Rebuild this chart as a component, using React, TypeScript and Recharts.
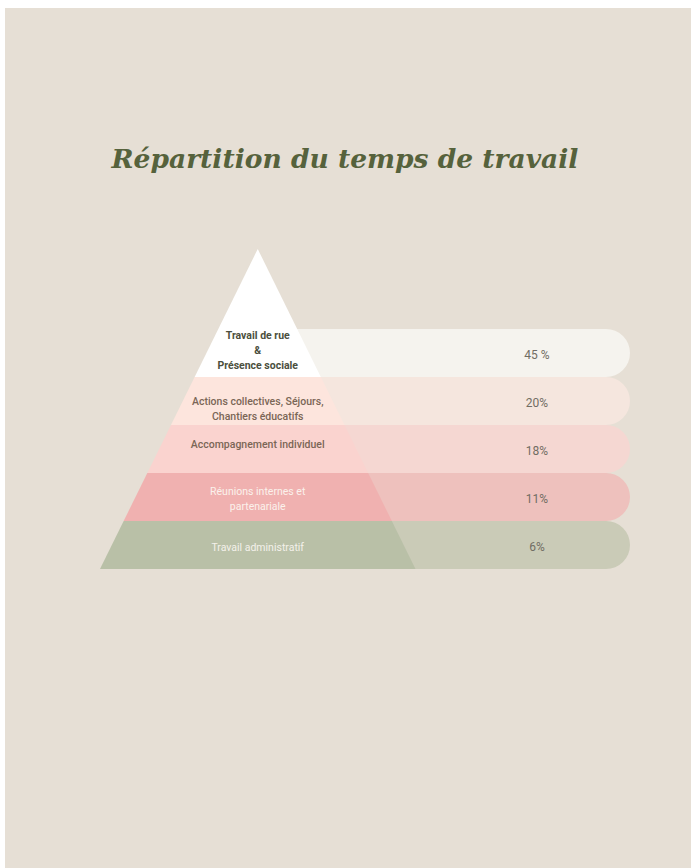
import React from 'react';
import { ComposedChart, Bar, XAxis, YAxis, LabelList } from 'recharts';

// rows from top of the pyramid to its base
const categories = [
  'Travail de rue & Présence sociale',
  'Actions collectives, Séjours, Chantiers éducatifs',
  'Accompagnement individuel',
  'Réunions internes et partenariale',
  'Travail administratif',
];
const labelLines = [
  ['Travail de rue', '&', 'Présence sociale'],
  ['Actions collectives, Séjours,', 'Chantiers éducatifs'],
  ['Accompagnement individuel'],
  ['Réunions internes et', 'partenariale'],
  ['Travail administratif'],
];
const shares = ['45 %', '20%', '18%', '11%', '6%'];
// half width of the pyramid at the bottom edge of each row (base = 100)
const halfWidths = [40, 55, 70, 85, 100];
const barEnd = 236;

const pyramidFill = ['#ffffff', '#fde5dd', '#fad3cf', '#f0b1b0', '#b9c0a7'];
const barFill = ['#f5f3ee', '#f5e6de', '#f5d7d2', '#eec1bd', '#cacbb7'];
const textFill = ['#4b4f3d', '#7a6656', '#7a6656', '#fbf1ec', '#f4f1ea'];
const textWeight = [700, 500, 500, 400, 400];
const labelShift = [-3, 7, -5, 1, 2];

const data = categories.map((name, i) => ({
  name,
  span: [-halfWidths[i], halfWidths[i]],
  top: i === 0 ? 0 : halfWidths[i - 1],
  bottom: halfWidths[i],
  bar: [0, barEnd],
  share: shares[i],
}));

const step = halfWidths[1] - halfWidths[0];

const Trapezoid = (props: any) => {
  const { x, y, width, height, payload, index } = props;
  const cx = x + width / 2;
  const topHalf = (width / 2) * (payload.top / payload.bottom);
  const rise = (height * (payload.bottom - payload.top)) / step;
  const yb = y + height;
  const yt = yb - rise;
  const pts = `${x},${yb} ${x + width},${yb} ${cx + topHalf},${yt} ${cx - topHalf},${yt}`;
  return <polygon points={pts} fill={pyramidFill[index]} />;
};

const RoundBar = (props: any) => {
  const { x, y, width, height, index } = props;
  const r = height / 2;
  const d = `M${x},${y} H${x + width - r} A${r},${r} 0 0 1 ${x + width - r},${y + height} H${x} Z`;
  return <path d={d} fill={barFill[index]} />;
};

const RowLabel = (props: any) => {
  const { x, y, width, height, index } = props;
  const lines = labelLines[index];
  const lh = 15;
  const cy = y + height / 2 + labelShift[index] - ((lines.length - 1) * lh) / 2;
  return (
    <text
      x={x + width / 2}
      y={cy}
      textAnchor="middle"
      dominantBaseline="central"
      fill={textFill[index]}
      fontWeight={textWeight[index]}
      fontSize={10.5}
      fontFamily="Roboto, sans-serif"
    >
      {lines.map((l, k) => (
        <tspan key={k} x={x + width / 2} dy={k === 0 ? 0 : lh}>
          {l}
        </tspan>
      ))}
    </text>
  );
};

const ShareLabel = (props: any) => {
  const { x, y, width, height, index } = props;
  return (
    <text
      x={x + width * 0.75}
      y={y + height / 2 + 2}
      textAnchor="middle"
      dominantBaseline="central"
      fill="#716d63"
      fontSize={12}
      fontFamily="Roboto, sans-serif"
    >
      {shares[index]}
    </text>
  );
};

export default function App() {
  return (
    <div
      style={{
        position: 'absolute',
        left: 5,
        top: 8,
        width: 686,
        height: 860,
        background: '#e6dfd5',
        overflow: 'hidden',
      }}
    >
      <div
        style={{
          position: 'absolute',
          top: 135,
          left: 0,
          width: 680,
          textAlign: 'center',
          fontFamily: '"DejaVu Serif", serif',
          fontStyle: 'italic',
          fontWeight: 700,
          fontSize: 26.5,
          color: '#56623c',
        }}
      >
        Répartition du temps de travail
      </div>
      <ComposedChart
        width={686}
        height={860}
        data={data}
        layout="vertical"
        barCategoryGap={0}
        barGap={0}
        margin={{ top: 321, right: 61, bottom: 299, left: 95 }}
        style={{ position: 'absolute', left: 0, top: 0 }}
      >
        <XAxis xAxisId="bars" type="number" domain={[-100, barEnd]} hide />
        <XAxis xAxisId="pyr" type="number" domain={[-100, barEnd]} hide />
        <YAxis yAxisId="bars" type="category" dataKey="name" hide />
        <YAxis yAxisId="pyr" type="category" dataKey="name" hide />
        <Bar
          xAxisId="bars"
          yAxisId="bars"
          dataKey="bar"
          shape={<RoundBar />}
          isAnimationActive={false}
        >
          <LabelList dataKey="share" content={<ShareLabel />} />
        </Bar>
        <Bar
          xAxisId="pyr"
          yAxisId="pyr"
          dataKey="span"
          shape={<Trapezoid />}
          isAnimationActive={false}
        >
          <LabelList dataKey="name" content={<RowLabel />} />
        </Bar>
      </ComposedChart>
    </div>
  );
}
